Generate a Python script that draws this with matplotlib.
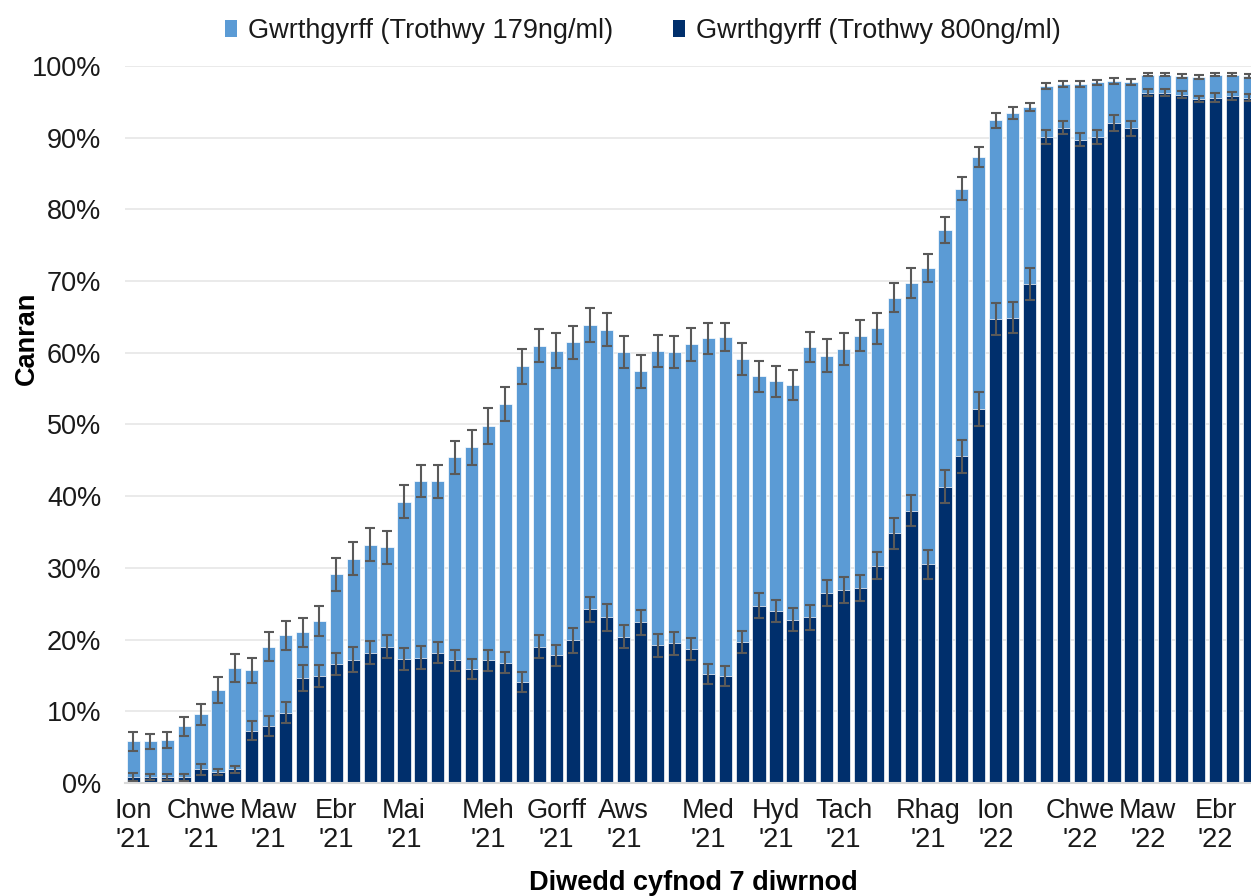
import matplotlib
matplotlib.use("Agg")
import matplotlib.pyplot as plt
from matplotlib.patches import Patch
from matplotlib.ticker import FuncFormatter, MultipleLocator

plt.rcParams['font.family'] = ['Liberation Sans', 'DejaVu Sans']

# ---- data (percent) ----
series_names = ["Gwrthgyrff (Trothwy 179ng/ml)", "Gwrthgyrff (Trothwy 800ng/ml)"]

pct_179 = [5.8, 5.8, 6.0, 7.9, 9.6, 13.0, 16.1, 15.7, 19.0, 20.6,
           21.0, 22.6, 29.1, 31.3, 33.2, 32.9, 39.2, 42.1, 42.1, 45.4,
           46.8, 49.8, 52.8, 58.1, 61.0, 60.3, 61.5, 63.9, 63.2, 60.1,
           57.4, 60.3, 60.1, 61.2, 62.0, 62.2, 59.1, 56.7, 56.0, 55.5,
           60.8, 59.6, 60.5, 62.4, 63.4, 67.7, 69.7, 71.8, 77.1, 82.9,
           87.3, 92.4, 93.5, 94.3, 97.2, 97.5, 97.5, 97.7, 97.9, 97.8,
           98.8, 98.8, 98.6, 98.5, 98.8, 98.8, 98.6]

err_179 = [1.3, 1.1, 1.05, 1.35, 1.45, 1.8, 1.95, 1.8, 2.05, 2.05,
           2.05, 2.05, 2.3, 2.25, 2.3, 2.3, 2.3, 2.2, 2.3, 2.3,
           2.4, 2.45, 2.37, 2.4, 2.25, 2.4, 2.3, 2.4, 2.3, 2.25,
           2.25, 2.25, 2.25, 2.3, 2.2, 2.0, 2.2, 2.15, 2.15, 2.15,
           2.15, 2.3, 2.2, 2.15, 2.15, 2.05, 2.07, 1.93, 1.84, 1.65,
           1.4, 1.05, 0.85, 0.6, 0.4, 0.4, 0.4, 0.4, 0.4, 0.4,
           0.25, 0.25, 0.25, 0.25, 0.25, 0.25, 0.25]

pct_800 = [0.8, 0.8, 0.8, 0.8, 1.9, 1.5, 1.9, 7.3, 7.9, 9.8,
           14.7, 14.9, 16.6, 17.2, 18.2, 19.0, 17.3, 17.5, 18.2, 17.1,
           15.9, 17.1, 16.8, 14.1, 19.0, 17.8, 19.9, 24.2, 23.1, 20.4,
           22.4, 19.2, 19.5, 18.7, 15.2, 14.9, 19.7, 24.7, 24.0, 22.8,
           23.1, 26.5, 26.9, 27.2, 30.3, 34.8, 38.0, 30.5, 41.3, 45.6,
           52.2, 64.7, 64.9, 69.6, 90.1, 91.4, 89.7, 90.1, 92.0, 91.3,
           96.3, 96.3, 96.0, 95.4, 95.6, 95.8, 95.6]

err_800 = [0.56, 0.4, 0.4, 0.47, 0.74, 0.4, 0.53, 1.37, 1.4, 1.44,
           1.8, 1.58, 1.53, 1.7, 1.67, 1.6, 1.56, 1.56, 1.46, 1.44,
           1.37, 1.44, 1.49, 1.35, 1.58, 1.44, 1.74, 1.79, 1.86, 1.58,
           1.74, 1.63, 1.58, 1.58, 1.37, 1.35, 1.5, 1.74, 1.58, 1.6,
           1.74, 1.86, 1.86, 1.86, 1.86, 2.1, 2.1, 1.98, 2.3, 2.3,
           2.4, 2.25, 2.2, 2.2, 1.0, 0.9, 0.92, 1.0, 1.1, 1.0,
           0.5, 0.5, 0.5, 0.4, 0.6, 0.6, 0.5]

tick_labels = ["Ion\n'21", "Chwe\n'21", "Maw\n'21", "Ebr\n'21", "Mai\n'21",
               "Meh\n'21", "Gorff\n'21", "Aws\n'21", "Med\n'21", "Hyd\n'21",
               "Tach\n'21", "Rhag\n'21", "Ion\n'22", "Chwe\n'22", "Maw\n'22",
               "Ebr\n'22"]
tick_bars = [0, 4, 8, 12, 16, 21, 25, 29, 34, 38, 42, 47, 51, 56, 60, 64]

# ---- style ----
c_light = '#5B9BD5'
c_dark = '#002F6C'
c_err = '#595959'
fs = 19.5

W, H = 1251, 896
fig = plt.figure(figsize=(W / 100, H / 100), dpi=100)
ax = fig.add_axes([125 / W, (H - 783) / H, (W - 125) / W, (783 - 66) / H])

x = list(range(len(pct_179)))
bw = 0.78
ax.bar(x, pct_179, width=bw, color=c_light, edgecolor='white', linewidth=0.5, zorder=2)
ax.errorbar(x, pct_179, yerr=err_179, fmt='none', ecolor=c_err, elinewidth=1.5,
            capsize=3.8, capthick=1.5, zorder=3)
ax.bar(x, pct_800, width=bw, color=c_dark, edgecolor='white', linewidth=0.5, zorder=4)
ax.errorbar(x, pct_800, yerr=err_800, fmt='none', ecolor=c_err, elinewidth=1.5,
            capsize=3.8, capthick=1.5, zorder=5)

ax.set_xlim(-0.5, 66.1)
ax.set_ylim(0, 100)
ax.yaxis.set_major_locator(MultipleLocator(10))
ax.yaxis.set_major_formatter(FuncFormatter(lambda v, p: f"{v:.0f}%"))
ax.grid(axis='y', color='#E6E6E6', linewidth=1.2, zorder=0)
ax.set_axisbelow(True)
for s in ['top', 'right', 'left']:
    ax.spines[s].set_visible(False)
ax.spines['bottom'].set_color('#D9D9D9')
ax.spines['bottom'].set_linewidth(1.5)
ax.spines['bottom'].set_zorder(6)

ax.set_xticks(tick_bars)
ax.set_xticklabels(tick_labels, fontsize=fs, color='#1a1a1a', linespacing=1.12)
ax.tick_params(axis='x', length=0, pad=11)
ax.tick_params(axis='y', length=0, pad=17, labelsize=fs, labelcolor='#1a1a1a')

ax.set_ylabel("Canran", fontsize=fs, fontweight='bold', color='black')
ax.yaxis.set_label_coords(-0.076, 0.62)

fig.text(693 / W, 1 - 890 / H, "Diwedd cyfnod 7 diwrnod", fontsize=fs,
         fontweight='bold', ha='center', va='baseline', color='black')

handles = [Patch(facecolor=c_light, edgecolor='none'), Patch(facecolor=c_dark, edgecolor='none')]
fig.legend(handles, series_names, loc='center', bbox_to_anchor=(643 / W, 1 - 31 / H),
           ncol=2, frameon=False, fontsize=fs, handlelength=0.45, handleheight=0.6,
           handletextpad=0.4, columnspacing=2.2, labelcolor='#1a1a1a')

fig.savefig("out.png", dpi=100)
